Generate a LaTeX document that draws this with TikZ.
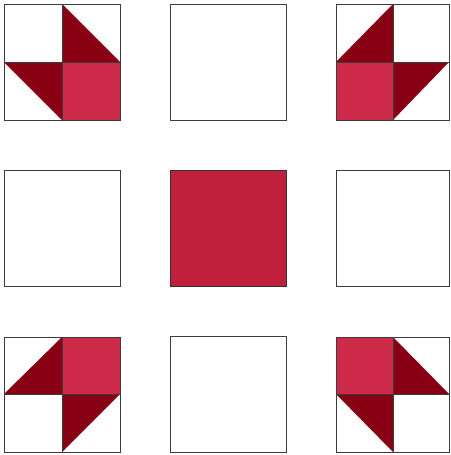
\documentclass[tikz,border=0pt]{standalone}
\usepackage{xcolor}
\usepackage{tikz}
\definecolor{quiltdark}{RGB}{135,0,20}
\definecolor{quiltrose}{RGB}{204,42,72}
\definecolor{quiltcore}{RGB}{192,32,60}
\definecolor{quiltline}{RGB}{60,60,60}
\tikzset{
  patch/.style={draw=quiltline, line width=0.8pt},
  plain/.style={patch, fill=white},
  rose/.style={patch, fill=quiltrose},
  darktri/.style={fill=quiltdark},
  seam/.style={draw=quiltline, line width=0.8pt}
}

\begin{document}
\begin{tikzpicture}[x=1pt, y=-1pt]
  % Page frame
  \useasboundingbox (0,0) rectangle (450,455);

  % Plain white blocks (edges and middles)
  \foreach \px/\py/\pw in {170/4/116, 4/170/116, 336/170/113, 170/336/116}
    \draw[plain] (\px,\py) rectangle ++(\pw,116);

  % Centre block
  \draw[patch, fill=quiltcore, draw=black!80] (170,170) rectangle ++(116,116);

  % Corner block, top left
  \begin{scope}[shift={(4,4)}]
    \draw[rose] (58,58) rectangle (116,116);
    \fill[darktri] (58,0) -- (116,58) -- (58,58) -- cycle;
    \fill[darktri] (0,58) -- (58,58) -- (58,116) -- cycle;
    \draw[seam] (58,0) -- (58,116) (0,58) -- (116,58);
    \draw[patch] (0,0) rectangle (116,116);
  \end{scope}

  % Corner block, top right
  \begin{scope}[shift={(336,4)}]
    \draw[rose] (0,58) rectangle (57,116);
    \fill[darktri] (0,58) -- (57,0) -- (57,58) -- cycle;
    \fill[darktri] (57,58) -- (113,58) -- (57,116) -- cycle;
    \draw[seam] (57,0) -- (57,116) (0,58) -- (113,58);
    \draw[patch] (0,0) rectangle (113,116);
  \end{scope}

  % Corner block, bottom left
  \begin{scope}[shift={(4,337)}]
    \draw[rose] (58,0) rectangle (116,57);
    \fill[darktri] (0,57) -- (58,0) -- (58,57) -- cycle;
    \fill[darktri] (58,57) -- (116,57) -- (58,115) -- cycle;
    \draw[seam] (58,0) -- (58,115) (0,57) -- (116,57);
    \draw[patch] (0,0) rectangle (116,115);
  \end{scope}

  % Corner block, bottom right
  \begin{scope}[shift={(336,337)}]
    \draw[rose] (0,0) rectangle (57,57);
    \fill[darktri] (57,0) -- (113,57) -- (57,57) -- cycle;
    \fill[darktri] (0,57) -- (57,57) -- (57,115) -- cycle;
    \draw[seam] (57,0) -- (57,115) (0,57) -- (113,57);
    \draw[patch] (0,0) rectangle (113,115);
  \end{scope}
\end{tikzpicture}
\end{document}
